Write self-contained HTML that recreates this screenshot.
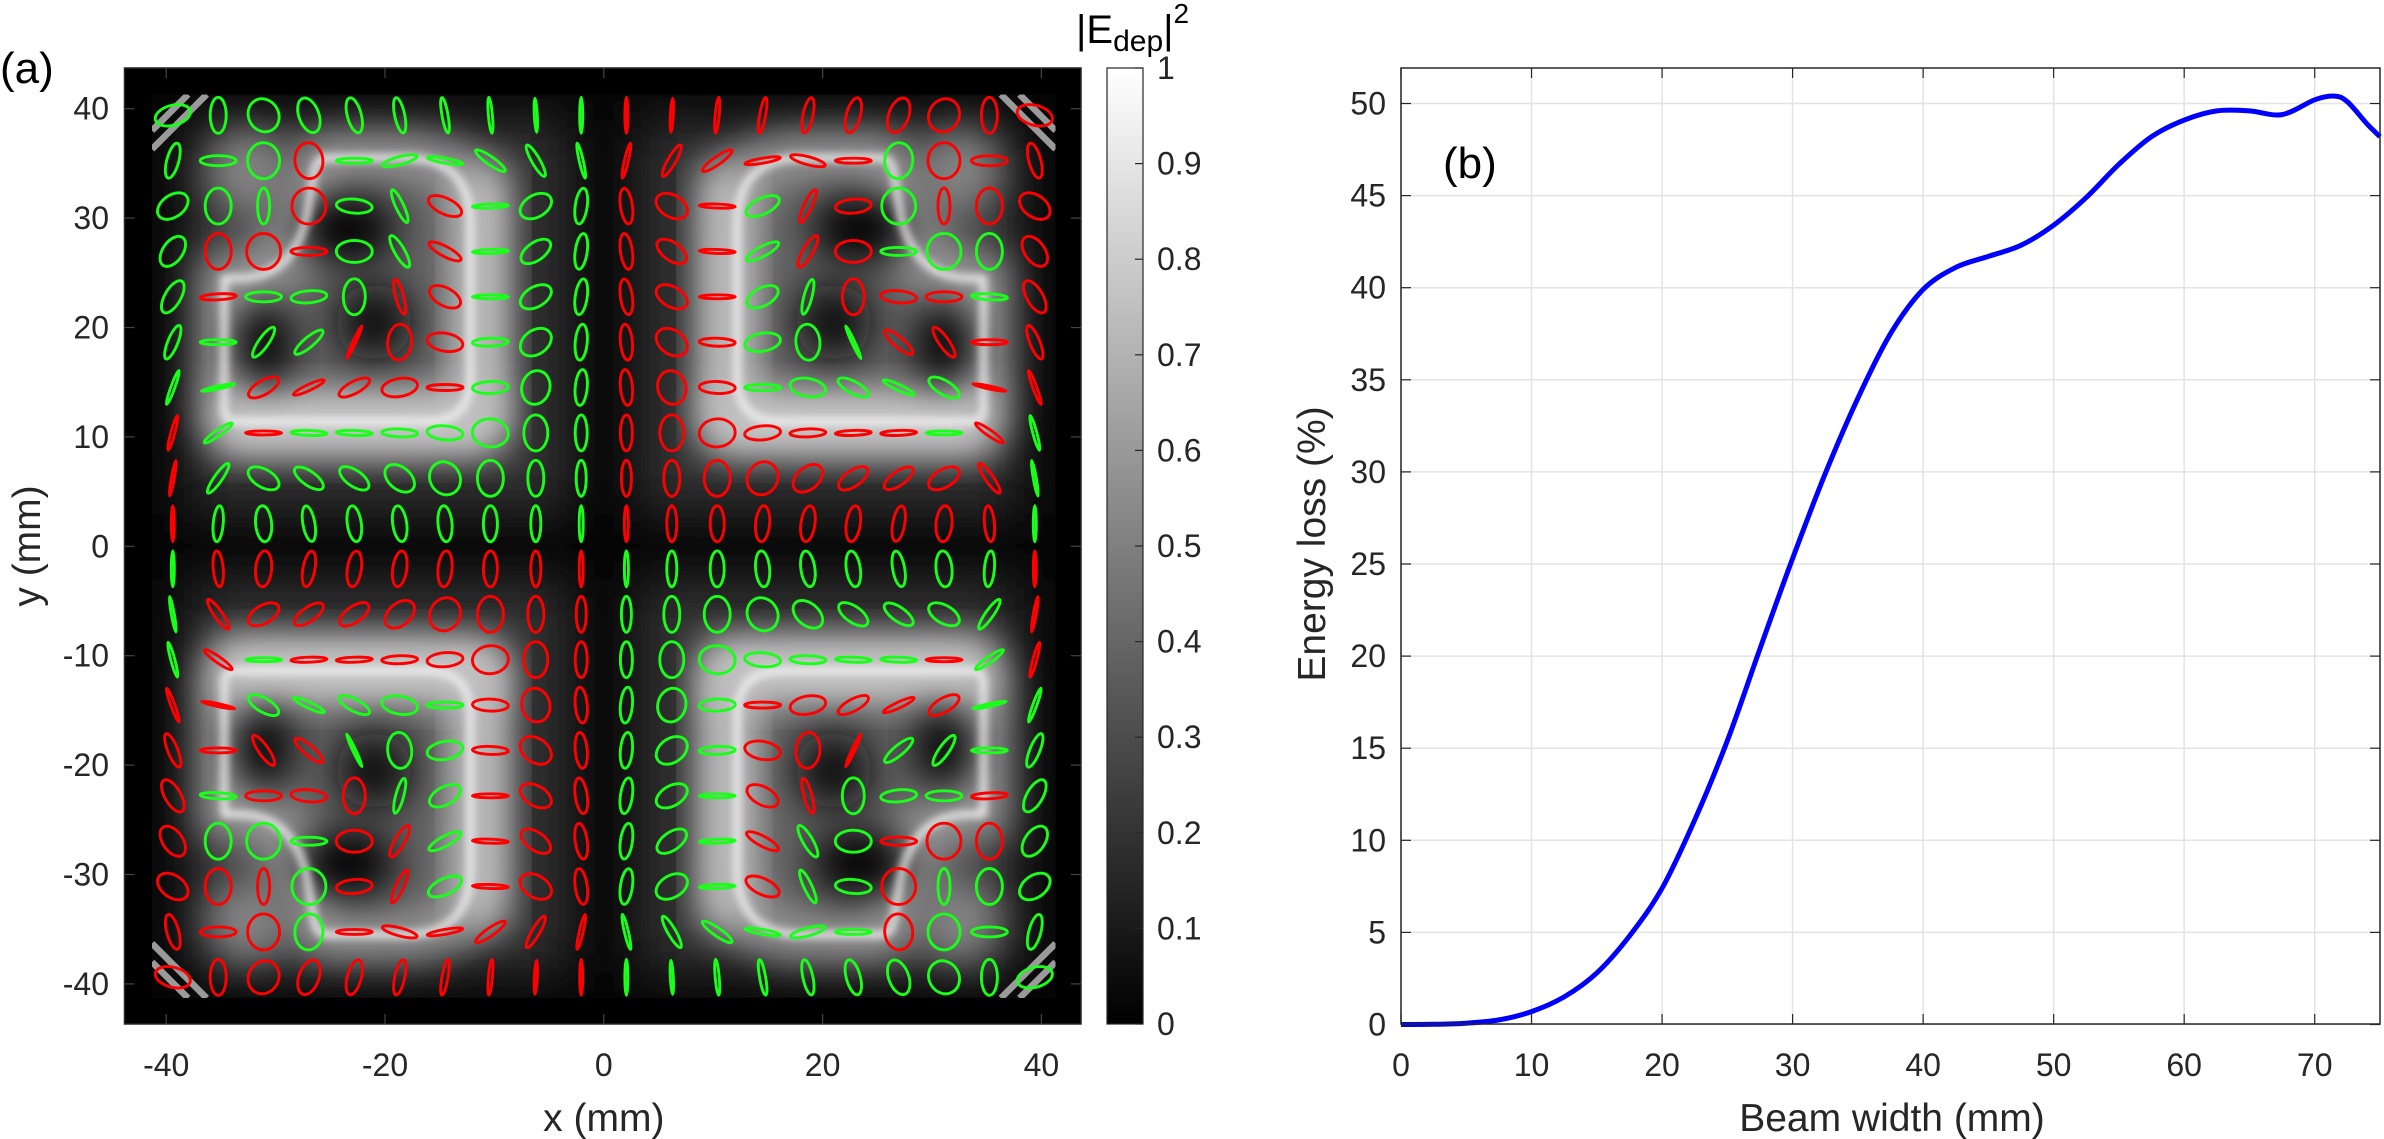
<!DOCTYPE html>
<html><head><meta charset="utf-8"><style>
html,body{margin:0;padding:0;background:#fff;}
svg{display:block;font-family:"Liberation Sans",Arial,sans-serif;}
</style></head><body>
<svg id="fig" width="2384" height="1139" viewBox="0 0 2384 1139" xmlns="http://www.w3.org/2000/svg">
<defs>
  <filter id="b15" x="-50%" y="-50%" width="200%" height="200%"><feGaussianBlur stdDeviation="1.5"/></filter>
  <filter id="b2" x="-50%" y="-50%" width="200%" height="200%"><feGaussianBlur stdDeviation="1.8"/></filter>
  <filter id="b25" x="-50%" y="-50%" width="200%" height="200%"><feGaussianBlur stdDeviation="2.5"/></filter>
  <filter id="b08" x="-50%" y="-50%" width="200%" height="200%"><feGaussianBlur stdDeviation="0.4"/></filter>
  <linearGradient id="cbgrad" x1="0" y1="1" x2="0" y2="0"><stop offset="0" stop-color="#000"/><stop offset="1" stop-color="#fff"/></linearGradient>
  <clipPath id="dataclip"><rect x="-41.3" y="-41.3" width="82.6" height="82.6"/></clipPath>
  <clipPath id="quadclip"><rect x="-41.3" y="0" width="41.3" height="41.3"/></clipPath>
  <g id="quad">
    <g clip-path="url(#quadclip)">
      <rect x="-38" y="3" width="35" height="36" fill="#333" filter="url(#b25)"/>
      <rect x="-33" y="13" width="20" height="21" fill="#606060" filter="url(#b25)"/>
      <path d="M-34.7 12.4 Q-34.7 11.4 -33.7 11.4 L-16.2 11.4 Q-12.2 11.4 -12.2 15.4 L-12.2 29.5 Q-12.2 35.5 -18.2 35.5 L-25.4 35.5 Q-26.4 35.5 -26.6 33.5 L-27.2 30 Q-28.5 24.5 -33.5 24.5 L-34.7 24.5 Z" fill="none" stroke="#9c9c9c" stroke-width="4.5" filter="url(#b2)"/>
      <rect x="-35.5" y="8.5" width="26" height="5.5" fill="#cacaca" filter="url(#b2)"/>
      <rect x="-13.2" y="10" width="4.4" height="25" fill="#c2c2c2" filter="url(#b2)"/>
      <ellipse cx="-23.5" cy="29" rx="4.5" ry="3" fill="#000" filter="url(#b2)"/>
      <ellipse cx="-31" cy="18.5" rx="2.5" ry="3.5" fill="#000" filter="url(#b2)"/>
      <ellipse cx="-21" cy="20.5" rx="3.5" ry="3.5" fill="#111" filter="url(#b2)"/>
      <circle cx="-32.5" cy="34.3" r="3.8" fill="#858585" filter="url(#b2)"/>
      <path d="M-34.7 12.4 Q-34.7 11.4 -33.7 11.4 L-16.2 11.4 Q-12.2 11.4 -12.2 15.4 L-12.2 29.5 Q-12.2 35.5 -18.2 35.5 L-25.4 35.5 Q-26.4 35.5 -26.6 33.5 L-27.2 30 Q-28.5 24.5 -33.5 24.5 L-34.7 24.5 Z" fill="none" stroke="#f6f6f6" stroke-width="0.6" filter="url(#b08)"/>
      <path d="M-41.3 38 L-38 41.3 M-41.3 36.3 L-36.3 41.3" stroke="#9a9a9a" stroke-width="0.6" fill="none"/>
    </g>
  </g>
</defs>

<!-- Panel (a) -->
<text x="0" y="83" font-size="44" fill="#000">(a)</text>
<rect x="124.5" y="68" width="956.5" height="956" fill="#000"/>
<g transform="translate(603.8,546.3) scale(10.94,-10.94)">
  <g clip-path="url(#dataclip)">
    <rect x="-41.3" y="-41.3" width="82.6" height="82.6" fill="#050505"/>
    <use href="#quad"/>
    <use href="#quad" transform="scale(-1,1)"/>
    <use href="#quad" transform="scale(1,-1)"/>
    <use href="#quad" transform="scale(-1,-1)"/>
  </g>
</g>
<g id="ellipses"></g>
<rect x="124.5" y="68" width="956.5" height="956" fill="none" stroke="#262626" stroke-width="1.5"/>
<g id="axA"></g>
<text x="603.8" y="1131" font-size="39" fill="#262626" text-anchor="middle">x (mm)</text>
<text transform="translate(40,546) rotate(-90)" font-size="39" fill="#262626" text-anchor="middle">y (mm)</text>

<!-- Colorbar -->
<rect x="1107" y="68" width="36" height="956" fill="url(#cbgrad)" stroke="#262626" stroke-width="1.2"/>
<g id="cbticks"></g>
<text x="1076" y="43" font-size="40" fill="#000">|E<tspan font-size="30" dy="8">dep</tspan><tspan dy="-8">|</tspan><tspan font-size="28" dy="-20">2</tspan></text>

<!-- Panel (b) -->
<rect x="1401" y="68" width="979" height="956" fill="#fff"/>
<g id="gridB"></g>
<path id="curve" fill="none" stroke="#0000ff" stroke-width="5" stroke-linejoin="round"/>
<rect x="1401" y="68" width="979" height="956" fill="none" stroke="#262626" stroke-width="1.5"/>
<g id="axB"></g>
<text x="1443" y="178" font-size="44" fill="#000">(b)</text>
<text x="1892" y="1131" font-size="39" fill="#262626" text-anchor="middle">Beam width (mm)</text>
<text transform="translate(1325,544) rotate(-90)" font-size="39" fill="#262626" text-anchor="middle">Energy loss (%)</text>
</svg>
<script>
// ---- Panel (a) data ----
const gridPosMm = [-39.4,-35.25,-31.1,-26.96,-22.81,-18.66,-14.52,-10.37,-6.22,-2.07];
const xTicksA = [-40,-20,0,20,40];
const yTicksA = [-40,-30,-20,-10,0,10,20,30,40];
// upper-left quadrant ellipses (row 0 = top), G green / R red
const ulColor = [
 "GGGGGGGGGG",
 "GGGRGGGGGG",
 "GGGRGGRGGG",
 "GRRRGGRGGG",
 "GRGGGRRGGG",
 "GGGGRRRGGG",
 "GGRRRRRGGG",
 "RGRGGGGGGG",
 "RGGGGGGGGG",
 "RGGGGGGGGG"];
const ulMajor = [
 [18,18,17,18,18,18,18,18,17,18],
 [18,18,18,18,18,18,18,18,18,18],
 [17,18,18,18,18,18,18,18,17,18],
 [17,18,18,18,18,18,18,18,17,18],
 [18,18,18,18,18,18,17,18,17,18],
 [18,18,18,18,18,18,18,18,17,18],
 [18,17,17,17,17,18,18,18,17,18],
 [18,17,18,18,18,18,18,18,18,18],
 [18,18,17,17,17,17,17,18,18,18],
 [18,18,18,18,18,18,18,18,18,18]];
const ulMinor = [
 [10,8,15,10,7,5,3,2,1.5,1.5],
 [6,5,16,14,2.5,4,2.5,4,4,2],
 [11,13,6,17,7,4,8,2,11,6],
 [10,13,17,4,11,5,5,2,9,6],
 [8,3,5,6,11,4,9,2,10,6],
 [5,2.5,5,5,1.5,12,9,4,12,6],
 [2,1.5,7,3,6,9,3,6,14,6],
 [2,3,2,2.5,2.5,4,7,14,12,6],
 [1.5,4,9,7,8,11,15,13,8,5],
 [1.5,5,8,6,7,7,7,7,5,2]];
const ulAngle = [
 [75,0,-30,-20,-15,-12,-10,-5,-3,0],
 [15,90,0,-5,90,75,100,125,150,-13],
 [55,0,0,0,95,-25,115,88,60,8],
 [35,0,0,90,90,-30,118,88,55,8],
 [30,87,90,85,0,-15,118,90,60,8],
 [22,90,35,50,25,5,100,88,55,5],
 [20,78,60,65,62,80,90,88,15,5],
 [15,55,90,92,92,92,95,95,0,0],
 [10,35,120,125,125,130,150,0,0,0],
 [0,5,-5,-10,-8,-8,-5,0,0,0]];

// ---- Panel (b) data ----
const beamWidth = [0,2.5,5,7.5,10,12.5,15,17.5,20,22.5,25,27.5,30,32.5,35,37.5,40,42.5,45,47.5,50,52.5,55,57.5,60,62.5,65,67.5,70,71.5,72.5,74,75];
const energyLoss = [0,0.01,0.07,0.25,0.7,1.5,2.8,4.8,7.4,11.1,15.4,20.4,25.3,29.9,34.0,37.5,39.9,41.1,41.7,42.3,43.4,44.9,46.7,48.2,49.1,49.6,49.6,49.4,50.2,50.4,50.1,48.9,48.2];
const xTicksB = [0,10,20,30,40,50,60,70];
const yTicksB = [0,5,10,15,20,25,30,35,40,45,50];
const cbTicks = [0,0.1,0.2,0.3,0.4,0.5,0.6,0.7,0.8,0.9,1];

const NS = "http://www.w3.org/2000/svg";
function mk(tag, attrs, parent){const e=document.createElementNS(NS,tag);for(const k in attrs)e.setAttribute(k,attrs[k]);parent.appendChild(e);return e;}
const ax = v => 603.8 + v*10.94;
const ay = v => 546.3 - v*10.94;
const bx = v => 1401 + v*13.053;
const by = v => 1024.5 - v*18.42;
const cby = v => 1024 - v*956;

// ellipses
const eg = document.getElementById('ellipses');
for (let r=0;r<10;r++){
  for (let c=0;c<10;c++){
    const base = ulColor[r][c];
    for (let q=0;q<4;q++){
      const mx = (q===1||q===3) ? -1 : 1;
      const my = (q===2||q===3) ? -1 : 1;
      const xmm = gridPosMm[c]*mx;
      const ymm = -gridPosMm[r]*my;
      let col = base;
      if (q===1||q===2) col = (base==='G') ? 'R' : 'G';
      const ang = ulAngle[r][c]*mx*my;
      const e = mk('ellipse',{cx:0,cy:0,rx:ulMinor[r][c],ry:ulMajor[r][c],fill:'none',stroke:col==='G'?'#19ff19':'#ff0000','stroke-width':2.9,transform:`translate(${ax(xmm).toFixed(1)},${ay(ymm).toFixed(1)}) rotate(${ang})`},eg);
      
      
    }
  }
}

// axes a ticks
const ga = document.getElementById('axA');
xTicksA.forEach(v=>{
  const t = mk('text',{x:ax(v),y:1076,'font-size':32,fill:'#262626','text-anchor':'middle'},ga);
  t.textContent = v;
  
  
  mk('line',{x1:ax(v),x2:ax(v),y1:1024,y2:1014,stroke:'#444','stroke-width':1.2},ga);
  mk('line',{x1:ax(v),x2:ax(v),y1:68,y2:78,stroke:'#444','stroke-width':1.2},ga);
});
yTicksA.forEach(v=>{
  const t = mk('text',{x:109,y:ay(v)+11,'font-size':32,fill:'#262626','text-anchor':'end'},ga);
  t.textContent = v;
  
  
  mk('line',{x1:124.5,x2:134.5,y1:ay(v),y2:ay(v),stroke:'#444','stroke-width':1.2},ga);
  mk('line',{x1:1081,x2:1071,y1:ay(v),y2:ay(v),stroke:'#444','stroke-width':1.2},ga);
});

// colorbar ticks
const gc = document.getElementById('cbticks');
cbTicks.forEach(v=>{
  mk('line',{x1:1143,x2:1135,y1:cby(v),y2:cby(v),stroke:'#262626','stroke-width':1.2},gc);
  const t = mk('text',{x:1157,y:cby(v)+11,'font-size':32,fill:'#262626'},gc);
  t.textContent = v;
  
  
});

// panel b grid + ticks
const gg = document.getElementById('gridB');
const gb = document.getElementById('axB');
xTicksB.forEach(v=>{
  const l = mk('line',{x1:bx(v),x2:bx(v),y1:68,y2:1024,stroke:'#e3e3e3','stroke-width':1.5},gg);
  
  
  mk('line',{x1:bx(v),x2:bx(v),y1:1024,y2:1014,stroke:'#262626','stroke-width':1.2},gb);
  mk('line',{x1:bx(v),x2:bx(v),y1:68,y2:78,stroke:'#262626','stroke-width':1.2},gb);
  const t = mk('text',{x:bx(v),y:1076,'font-size':32,fill:'#262626','text-anchor':'middle'},gb);
  t.textContent = v;
  
  
});
yTicksB.forEach(v=>{
  const l = mk('line',{x1:1401,x2:2380,y1:by(v),y2:by(v),stroke:'#e3e3e3','stroke-width':1.5},gg);
  
  
  mk('line',{x1:1401,x2:1411,y1:by(v),y2:by(v),stroke:'#262626','stroke-width':1.2},gb);
  mk('line',{x1:2380,x2:2370,y1:by(v),y2:by(v),stroke:'#262626','stroke-width':1.2},gb);
  const t = mk('text',{x:1386,y:by(v)+11,'font-size':32,fill:'#262626','text-anchor':'end'},gb);
  t.textContent = v;
  
  
});

// curve (Catmull-Rom smoothing)
(function(){
  const P = beamWidth.map((x,i)=>[bx(x),by(energyLoss[i])]);
  let d = `M${P[0][0].toFixed(1)},${P[0][1].toFixed(1)}`;
  for (let i=0;i<P.length-1;i++){
    const p0=P[Math.max(0,i-1)],p1=P[i],p2=P[i+1],p3=P[Math.min(P.length-1,i+2)];
    const c1=[p1[0]+(p2[0]-p0[0])/6,p1[1]+(p2[1]-p0[1])/6];
    const c2=[p2[0]-(p3[0]-p1[0])/6,p2[1]-(p3[1]-p1[1])/6];
    d += ` C${c1[0].toFixed(1)},${c1[1].toFixed(1)} ${c2[0].toFixed(1)},${c2[1].toFixed(1)} ${p2[0].toFixed(1)},${p2[1].toFixed(1)}`;
  }
  document.getElementById('curve').setAttribute('d',d);
})();
</script>
</body></html>
